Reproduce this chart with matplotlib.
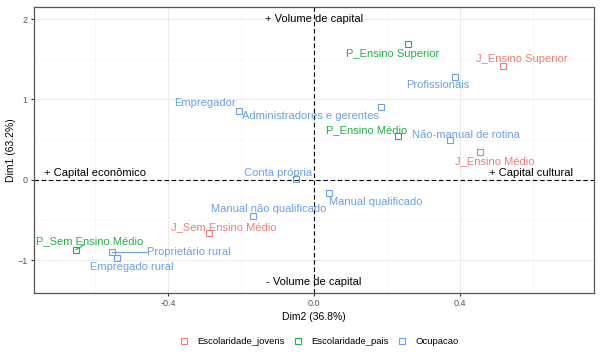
import numpy as np
import matplotlib
matplotlib.use('Agg')
from matplotlib import pyplot as plt
from matplotlib.lines import Line2D

plt.rcParams['font.family'] = ['Liberation Sans', 'DejaVu Sans']

# categorias (coordenadas da ACM)
nomes = ['J_Ensino Superior', 'J_Ensino Médio', 'J_Sem Ensino Médio',
         'P_Ensino Superior', 'P_Ensino Médio', 'P_Sem Ensino Médio',
         'Profissionais', 'Administradores e gerentes', 'Empregador',
         'Não-manual de rotina', 'Conta própria', 'Manual qualificado',
         'Manual não qualificado', 'Proprietário rural', 'Empregado rural']
dim2 = [0.518, 0.455, -0.288,
        0.258, 0.230, -0.652,
        0.386, 0.183, -0.205,
        0.372, -0.050, 0.041,
        -0.167, -0.553, -0.540]
dim1 = [1.42, 0.35, -0.66,
        1.69, 0.54, -0.87,
        1.28, 0.91, 0.86,
        0.49, 0.01, -0.16,
        -0.45, -0.90, -0.97]
grupo = ['Escolaridade_jovens'] * 3 + ['Escolaridade_pais'] * 3 + ['Ocupacao'] * 9
grupos = ['Escolaridade_jovens', 'Escolaridade_pais', 'Ocupacao']

cores = {'Escolaridade_jovens': '#F07C74', 'Escolaridade_pais': '#1DB245',
         'Ocupacao': '#6C9EEA'}

# deslocamento dos rótulos (estilo ggrepel)
desloc = {'J_Ensino Superior': (0.052, 0.087), 'J_Ensino Médio': (0.041, -0.113),
          'J_Sem Ensino Médio': (0.041, 0.075), 'P_Ensino Superior': (-0.044, -0.121),
          'P_Ensino Médio': (-0.085, 0.083), 'P_Sem Ensino Médio': (0.038, 0.110),
          'Profissionais': (-0.046, -0.097), 'Administradores e gerentes': (-0.194, -0.113),
          'Empregador': (-0.094, 0.099), 'Não-manual de rotina': (0.044, 0.070),
          'Conta própria': (-0.049, 0.077), 'Manual qualificado': (0.129, -0.114),
          'Manual não qualificado': (0.044, 0.089), 'Proprietário rural': (0.211, 0.003),
          'Empregado rural': (0.041, -0.113)}
# segmentos ligando ponto ao rótulo
segmentos = {'Proprietário rural': (-0.458, -0.90), 'P_Sem Ensino Médio': (-0.630, -0.81)}

fig = plt.figure(figsize=(6, 3.54), dpi=100)
ax = fig.add_axes([0.0567, 0.1723, 0.9333, 0.8077])

for n, x, y, g in zip(nomes, dim2, dim1, grupo):
    c = cores[g]
    if n in segmentos:
        sx, sy = segmentos[n]
        ax.plot([x, sx], [y, sy], color=c, lw=0.8, zorder=2)
    ax.plot(x, y, marker='s', ms=4, mfc='none', mec=c, mew=0.8, ls='none', zorder=3)
    dx, dy = desloc[n]
    ax.text(x + dx, y + dy, n, color=c, fontsize=8, ha='center', va='center', zorder=4)

# eixos tracejados
ax.axhline(0, color='black', lw=0.8, dashes=(4, 2.5), zorder=1)
ax.axvline(0, color='black', lw=0.8, dashes=(4, 2.5), zorder=1)

# anotações
ax.text(0, 2.0, '+ Volume de capital', fontsize=8, ha='center', va='center')
ax.text(0, -1.27, '- Volume de capital', fontsize=8, ha='center', va='center')
ax.text(-0.60, 0.09, '+ Capital econômico', fontsize=8, ha='center', va='center')
ax.text(0.595, 0.09, '+ Capital cultural', fontsize=8, ha='center', va='center')

ax.set_xlim(-0.767, 0.767)
ax.set_ylim(-1.41, 2.15)
ax.set_xticks([-0.4, 0.0, 0.4])
ax.set_xticklabels(['-0.4', '0.0', '0.4'])
ax.set_yticks([-1, 0, 1, 2])
ax.set_xticks([-0.6, -0.2, 0.2, 0.6], minor=True)
ax.set_yticks([-0.5, 0.5, 1.5], minor=True)
ax.grid(which='major', color='#EBEBEB', lw=0.8)
ax.grid(which='minor', color='#F5F5F5', lw=0.5)
ax.set_axisbelow(True)
ax.tick_params(which='major', length=2.5, color='#333333', labelsize=6.5,
               labelcolor='#555555', pad=2)
ax.tick_params(which='minor', length=0)
for s in ax.spines.values():
    s.set_color('#555555')
    s.set_linewidth(0.9)

ax.set_xlabel('Dim2 (36.8%)', fontsize=7.5, labelpad=3)
ax.set_ylabel('Dim1 (63.2%)', fontsize=7.5, labelpad=1)

handles = [Line2D([], [], marker='s', ms=4, mfc='none', mec=cores[g], mew=0.8, ls='none')
           for g in grupos]
fig.legend(handles, grupos, loc='center', bbox_to_anchor=(0.532, 0.034), ncol=3,
           frameon=False, fontsize=6.8, handletextpad=1.0, columnspacing=1.0,
           handlelength=0.8)

fig.savefig('out.png', dpi=100)
